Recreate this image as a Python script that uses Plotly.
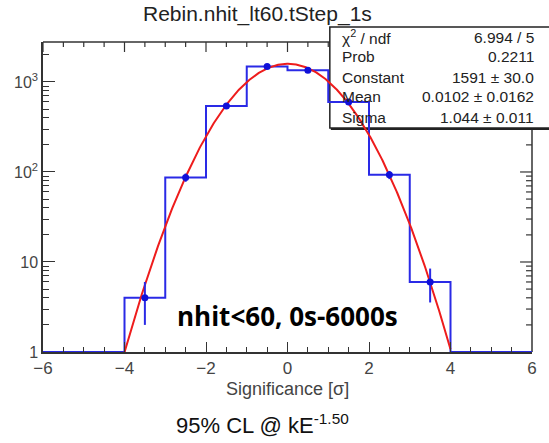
import numpy as np
import plotly.graph_objects as go

# Histogram of significance, unit-width bins from -6 to 6
bin_edges = [-6, -5, -4, -3, -2, -1, 0, 1, 2, 3, 4, 5, 6]
counts = [0, 0, 4, 87, 540, 1490, 1350, 600, 93, 6, 0, 0]

# Gaussian fit results
fit_constant = 1591
fit_mean = 0.0102
fit_sigma = 1.044
fit_range = (-4, 4)

stat_labels = ["χ<sup>2</sup> / ndf", "Prob", "Constant", "Mean", "Sigma"]
stat_values = ["6.994 / 5", "0.2211", "1591 ± 30.0", "0.0102 ± 0.0162", "1.044 ± 0.011"]

title_text = "Rebin.nhit_lt60.tStep_1s"
x_title = "Significance [σ]"
panel_label = "nhit&lt;60, 0s-6000s"
footer = "95% CL @ kE<sup>-1.50</sup>"

x_major = [-6, -4, -2, 0, 2, 4, 6]
y_tickvals = [1, 10, 100, 1000]
y_ticktext = ["1", "10", "10<sup>2</sup>", "10<sup>3</sup>"]

# figure geometry (pixels)
W, H = 549, 443
L, R, T, B = 43, 15, 42, 91
PW, PH = W - L - R, H - T - B
x_lo, x_hi = -6, 6
y_min = 1.0
y_max_log = 3.444


def px(x):
    return (x - L) / PW


def py(y):
    return (H - B - y) / PH


def xdata_to_paper(x):
    return (x - x_lo) / (x_hi - x_lo)


def ydata_to_paper(v):
    return np.log10(v) / y_max_log


blue = "#2a2ae6"
red = "#ee1c1c"
axis_col = "#333333"
font_main = "Liberation Sans, Arial, sans-serif"

fig = go.Figure()

# step outline; empty bins rest on the axis minimum
draw_counts = [max(c, y_min) for c in counts]
step_x = bin_edges
step_y = draw_counts + [draw_counts[-1]]
fig.add_trace(go.Scatter(
    x=step_x, y=step_y, mode="lines", line=dict(color=blue, width=2, shape="hv"),
    hoverinfo="skip", cliponaxis=False,
))

# gaussian fit curve
xf = np.linspace(fit_range[0], fit_range[1], 400)
yf = fit_constant * np.exp(-0.5 * ((xf - fit_mean) / fit_sigma) ** 2)
fig.add_trace(go.Scatter(x=xf, y=yf, mode="lines", line=dict(color=red, width=2), hoverinfo="skip"))

# bin content markers with Poisson errors
centers = [(bin_edges[i] + bin_edges[i + 1]) / 2 for i in range(len(counts)) if counts[i] > 0]
vals = [c for c in counts if c > 0]
errs = [np.sqrt(c) for c in vals]
fig.add_trace(go.Scatter(
    x=centers, y=vals, mode="markers",
    marker=dict(color="#1010d8", size=7),
    error_y=dict(type="data", array=errs, visible=True, color=blue, thickness=2, width=0),
    hoverinfo="skip",
))

# top and right frame with inward ticks (drawn under the stats box)
shapes = []
frame = dict(color=axis_col, width=1.5)
tick = dict(color=axis_col, width=1.2)
shapes.append(dict(type="line", xref="paper", yref="paper", x0=0, x1=1, y0=1, y1=1, line=frame, layer="below"))
shapes.append(dict(type="line", xref="paper", yref="paper", x0=1, x1=1, y0=0, y1=1, line=frame, layer="below"))
for xv in np.arange(x_lo, x_hi + 0.25, 0.5):
    ln = 10 if xv in x_major else 5
    xp = xdata_to_paper(xv)
    shapes.append(dict(type="line", xref="paper", yref="paper", x0=xp, x1=xp,
                       y0=1, y1=1 - ln / PH, line=tick, layer="below"))
for dec in [1, 10, 100, 1000]:
    for m in range(1, 10):
        v = dec * m
        if np.log10(v) > y_max_log:
            continue
        ln = 12 if m == 1 else 6
        yp = ydata_to_paper(v)
        shapes.append(dict(type="line", xref="paper", yref="paper", x0=1, x1=1 - ln / PW,
                           y0=yp, y1=yp, line=tick, layer="below"))

# statistics box
shapes.append(dict(type="rect", xref="paper", yref="paper",
                   x0=px(331), x1=px(570), y0=py(128), y1=py(27),
                   line=dict(color="#222222", width=1.5), fillcolor="white", layer="below"))
shapes.append(dict(type="line", xref="paper", yref="paper",
                   x0=px(332), x1=px(570), y0=py(129), y1=py(129),
                   line=dict(color="#222222", width=2), layer="below"))

annotations = [
    dict(text=title_text, x=px(258), y=py(14), xref="paper", yref="paper",
         showarrow=False, font=dict(size=21, color="#222", family=font_main),
         xanchor="center", yanchor="middle"),
    dict(text=x_title, x=px(289), y=py(389), xref="paper", yref="paper",
         showarrow=False, font=dict(size=18, color="#444", family=font_main),
         xanchor="center", yanchor="middle"),
    dict(text=footer, x=px(263), y=py(424), xref="paper", yref="paper",
         showarrow=False, font=dict(size=22, color="#111", family=font_main),
         xanchor="center", yanchor="middle"),
    dict(text="<b>" + panel_label + "</b>", x=px(289), y=py(316), xref="paper", yref="paper",
         showarrow=False, font=dict(size=26, color="black", family="Open Sans"),
         xanchor="center", yanchor="middle"),
]

row_y = [37, 57, 77, 97, 117]
for lab, val, ry in zip(stat_labels, stat_values, row_y):
    annotations.append(dict(text=lab, x=px(341), y=py(ry), xref="paper", yref="paper",
                            showarrow=False, xanchor="left", yanchor="middle",
                            font=dict(size=15.5, color="#222", family=font_main)))
    annotations.append(dict(text=val, x=px(538), y=py(ry), xref="paper", yref="paper",
                            showarrow=False, xanchor="right", yanchor="middle",
                            font=dict(size=15.5, color="#222", family=font_main)))

fig.update_layout(
    width=W, height=H,
    margin=dict(l=L, r=R, t=T, b=B),
    paper_bgcolor="white", plot_bgcolor="white",
    showlegend=False,
    shapes=shapes,
    annotations=annotations,
    xaxis=dict(
        range=[x_lo, x_hi], tickvals=x_major,
        ticks="inside", ticklen=10, tickwidth=1.2, tickcolor=axis_col,
        showline=True, linecolor=axis_col, linewidth=1.5, mirror=False,
        showgrid=False, zeroline=False,
        tickfont=dict(size=17, color="#444", family=font_main),
        minor=dict(dtick=0.5, ticks="inside", ticklen=5, tickwidth=1.2, tickcolor=axis_col, showgrid=False),
    ),
    yaxis=dict(
        type="log", range=[0, y_max_log],
        tickvals=y_tickvals, ticktext=y_ticktext,
        ticks="inside", ticklen=12, tickwidth=1.2, tickcolor=axis_col,
        showline=True, linecolor=axis_col, linewidth=1.5, mirror=False,
        showgrid=False, zeroline=False,
        tickfont=dict(size=16, color="#444", family=font_main),
        minor=dict(dtick="D1", ticks="inside", ticklen=6, tickwidth=1.2, tickcolor=axis_col, showgrid=False),
    ),
)

fig.write_html("out.html")
